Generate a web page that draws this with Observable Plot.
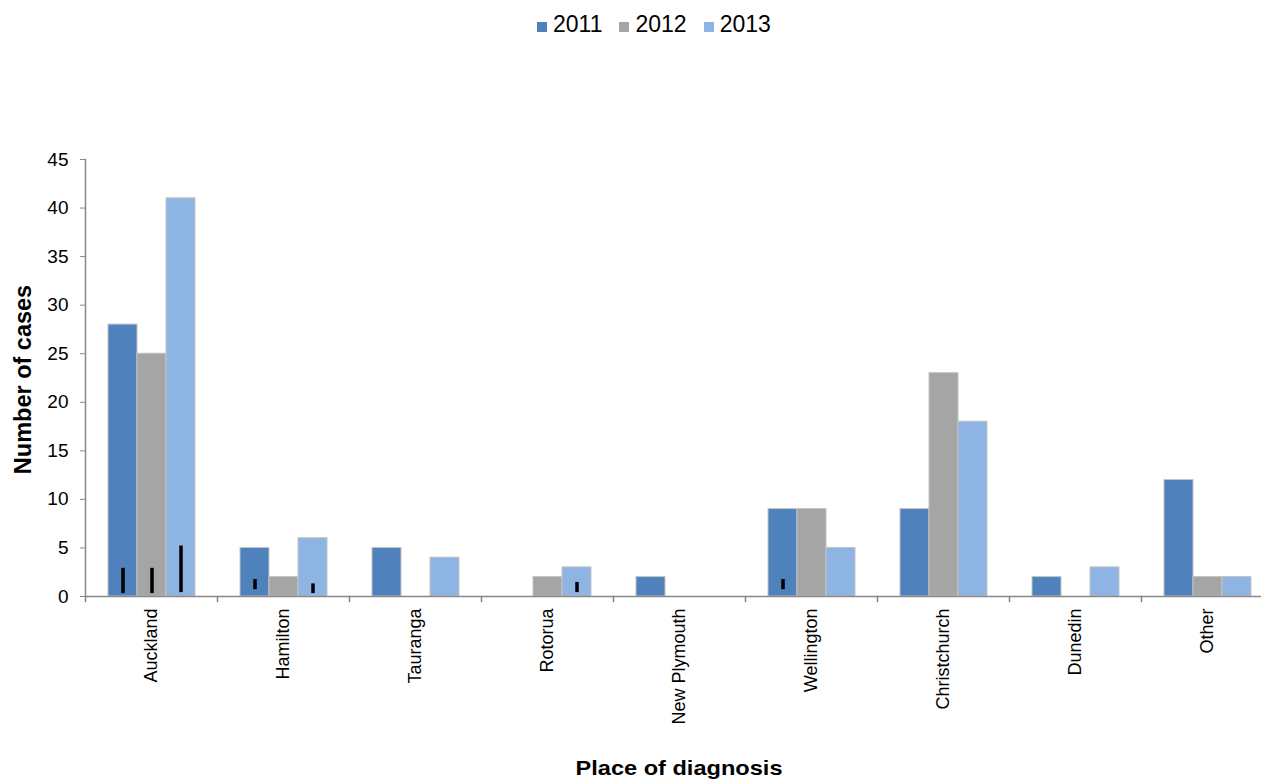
<!DOCTYPE html>
<html><head><meta charset="utf-8">
<script src="https://cdn.jsdelivr.net/npm/d3@7"></script>
<script src="https://cdn.jsdelivr.net/npm/@observablehq/plot@0.6"></script>
<style>
body{margin:0;background:#fff;overflow:hidden;font-family:"Liberation Sans",Arial,sans-serif;}
#wrap{position:relative;width:1261px;height:780px;}
#legend{position:absolute;top:13px;left:537px;font-size:23px;line-height:23px;color:#000;white-space:nowrap;}
.item{display:inline;margin-right:17px}
.sw{display:inline-block;width:10px;height:10px;margin-right:6px;vertical-align:baseline}
</style></head><body>
<div id="wrap"><div id="legend"></div><div id="chart"></div></div>
<script>
const places = ["Auckland","Hamilton","Tauranga","Rotorua","New Plymouth","Wellington","Christchurch","Dunedin","Other"];
const years = ["2011","2012","2013"];
const cases2011 = [28,5,5,0,2,9,9,2,12];
const cases2012 = [25,2,0,2,0,9,23,0,2];
const cases2013 = [41,6,4,3,0,5,18,3,2];
const yTicks = [0,5,10,15,20,25,30,35,40,45];
const colors = ["#4f81bd","#a5a5a5","#8eb4e3"];
// small black marks drawn inside some bars
const markPlaces = ["Auckland","Auckland","Auckland","Hamilton","Hamilton","Rotorua","Wellington"];
const markYears = ["2011","2012","2013","2011","2013","2013","2011"];
const markLow = [0.3,0.3,0.4,0.7,0.3,0.4,0.7];
const markHigh = [2.9,2.9,5.2,1.75,1.3,1.45,1.75];

const series = [cases2011, cases2012, cases2013];
const rows = [];
places.forEach((p,i)=>years.forEach((y,j)=>rows.push({place:p, year:y, value:series[j][i]})));
const ann = markPlaces.map((p,i)=>({place:p, year:markYears[i], y1:markLow[i], y2:markHigh[i]}));

// legend
const lg = document.getElementById("legend");
years.forEach((y,i)=>{
  const it = document.createElement("span"); it.className="item";
  const sw = document.createElement("span"); sw.className="sw"; sw.style.background=colors[i];
  it.appendChild(sw); it.appendChild(document.createTextNode(y)); lg.appendChild(it);
});

const W=1261,H=780,mT=159,mB=184,mL=85,mR=-12;
const plotH = H - mT - mB;
const chart = Plot.plot({
  width: W, height: H, marginTop: mT, marginBottom: mB, marginLeft: mL, marginRight: mR,
  style: {fontFamily:"Liberation Sans, Arial, sans-serif", fontSize:"18px", color:"black", background:"white", overflow:"visible"},
  fx: {domain: places, padding: 0, label: null},
  x: {domain: years, paddingInner: 0, paddingOuter: 0.75, axis: null},
  y: {domain: [0,45], label: null},
  color: {domain: years, range: colors},
  marks: [
    Plot.barY(rows, {fx:"place", x:"year", y:"value", fill:"year", stroke:"#c3c3c3", strokeWidth:1}),
    Plot.ruleX(ann, {fx:"place", x:"year", y1:"y1", y2:"y2", stroke:"black", strokeWidth:3.5}),
    Plot.ruleY([0], {stroke:"#888", strokeWidth:1.5}),
    Plot.frame({anchor:"left", facetAnchor:"left", stroke:"#888", strokeWidth:1.5}),
    Plot.frame({anchor:"left", insetTop: plotH, insetBottom:-5, stroke:"#888", strokeWidth:1.5}),
    Plot.axisY({ticks: yTicks, tickSize:5, tickPadding:12, stroke:"#888", fill:"black", label:null, facetAnchor:"left", fontSize:19}),
    Plot.axisFx({anchor:"bottom", tickRotate:-90, tickSize:0, tickPadding:12, label:null, fill:"black", fontSize:18})
  ]
});
document.getElementById("chart").appendChild(chart);
const svg = d3.select(chart);
svg.append("text").text("Place of diagnosis")
  .attr("x", (mL + W - mR)/2).attr("y", 775).attr("text-anchor","middle")
  .attr("font-size", 21).attr("font-weight","bold").attr("fill","black")
  .attr("textLength", 207).attr("lengthAdjust","spacingAndGlyphs");
svg.append("text").text("Number of cases")
  .attr("transform", `translate(31,${mT + plotH/2 + 2}) rotate(-90)`).attr("text-anchor","middle")
  .attr("font-size", 23.5).attr("font-weight","bold").attr("fill","black");
</script>
</body></html>
